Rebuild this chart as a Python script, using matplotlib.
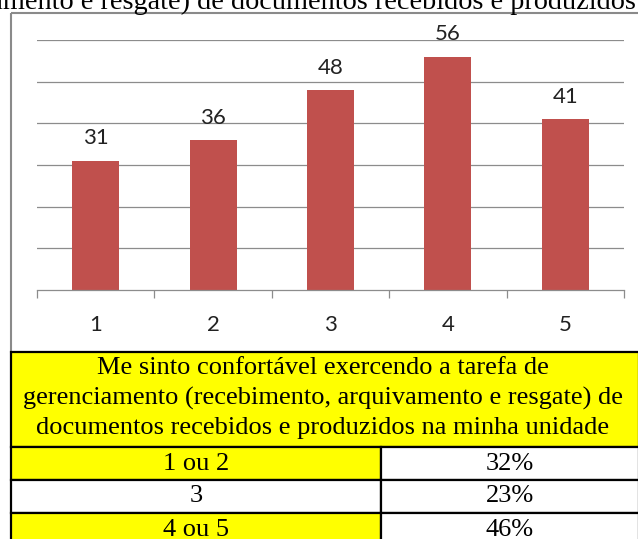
import matplotlib
matplotlib.use("Agg")
import matplotlib.pyplot as plt
from matplotlib.patches import Rectangle

# bar chart: number of answers per score
categories = ["1", "2", "3", "4", "5"]
counts = [31, 36, 48, 56, 41]

# summary table below the chart
table_title = ("Me sinto confortável exercendo a tarefa de\n"
               "gerenciamento (recebimento, arquivamento e resgate) de\n"
               "documentos recebidos e produzidos na minha unidade")
groups = ["1 ou 2", "3", "4 ou 5"]
shares = ["32%", "23%", "46%"]
group_colors = ["#ffff00", "#ffffff", "#ffff00"]

caption_tail = "gerenciamento (recebimento, arquivamento e resgate) de documentos recebidos e produzidos"

W, H = 638, 539
fig = plt.figure(figsize=(W / 100, H / 100), dpi=100)


def px_box(x0, y0, x1, y1):
    """pixel box with top-left origin -> figure fraction rect"""
    return [x0 / W, 1 - y1 / H, (x1 - x0) / W, (y1 - y0) / H]


serif = "Liberation Serif"
sans = ["Lato", "DejaVu Sans"]
tsize = 19.0

# overlay in pixel units for frame, table and the clipped caption line
ov = fig.add_axes([0, 0, 1, 1])
ov.set_xlim(0, W)
ov.set_ylim(H, 0)
ov.axis("off")

ov.text(636, 9, caption_tail, ha="right", va="baseline", fontsize=20.3, family=serif)

# chart frame (right side runs off the page)
ov.add_patch(Rectangle((10.5, 13), 700, 339, fill=False, ec="#8a8a8a", lw=1.5))

# table
left, mid, right = 11, 381, 639
top, head_bottom, row_h = 352, 447, 33
ov.add_patch(Rectangle((left, top), right - left, head_bottom - top,
                       fc="#ffff00", ec="black", lw=1.6, clip_on=False))
ov.text((left + right) / 2 - 2, 398, table_title, ha="center", va="center",
        fontsize=tsize, family=serif, linespacing=1.42)
for i, (g, s) in enumerate(zip(groups, shares)):
    y0 = head_bottom + i * row_h
    ov.add_patch(Rectangle((left, y0), mid - left, row_h, fc=group_colors[i], ec="black", lw=1.6, clip_on=False))
    ov.add_patch(Rectangle((mid, y0), right - mid, row_h, fc="white", ec="black", lw=1.6, clip_on=False))
    ov.text((left + mid) / 2, y0 + row_h / 2, g, ha="center", va="center", fontsize=tsize, family=serif)
    ov.text((mid + right) / 2, y0 + row_h / 2, s, ha="center", va="center", fontsize=tsize, family=serif)

# bar chart
ax = fig.add_axes(px_box(37, 40, 624, 290))
ax.set_facecolor("none")
xs = range(len(categories))
bars = ax.bar(xs, counts, width=0.4, color="#c0504d", zorder=2)
ax.bar_label(bars, padding=9, fontsize=16, family=sans, color="#222222")

ax.set_xlim(-0.5, len(categories) - 0.5)
ax.set_ylim(0, 60)
ax.set_yticks(range(10, 70, 10))
ax.yaxis.grid(True, color="#8c8c8c", lw=0.9)
ax.set_axisbelow(True)
ax.tick_params(axis="y", left=False, labelleft=False)

for side in ["left", "top", "right"]:
    ax.spines[side].set_visible(False)
ax.spines["bottom"].set_color("#8c8c8c")
ax.spines["bottom"].set_linewidth(0.9)

ax.set_xticks(list(xs))
ax.set_xticklabels(categories, fontsize=16, family=sans, color="#222222")
ax.set_xticks([x - 0.5 for x in range(len(categories) + 1)], minor=True)
ax.tick_params(axis="x", which="major", length=0, pad=18)
ax.tick_params(axis="x", which="minor", length=5.4, width=0.9, color="#8c8c8c", direction="out")

fig.savefig("out.png", dpi=100)
